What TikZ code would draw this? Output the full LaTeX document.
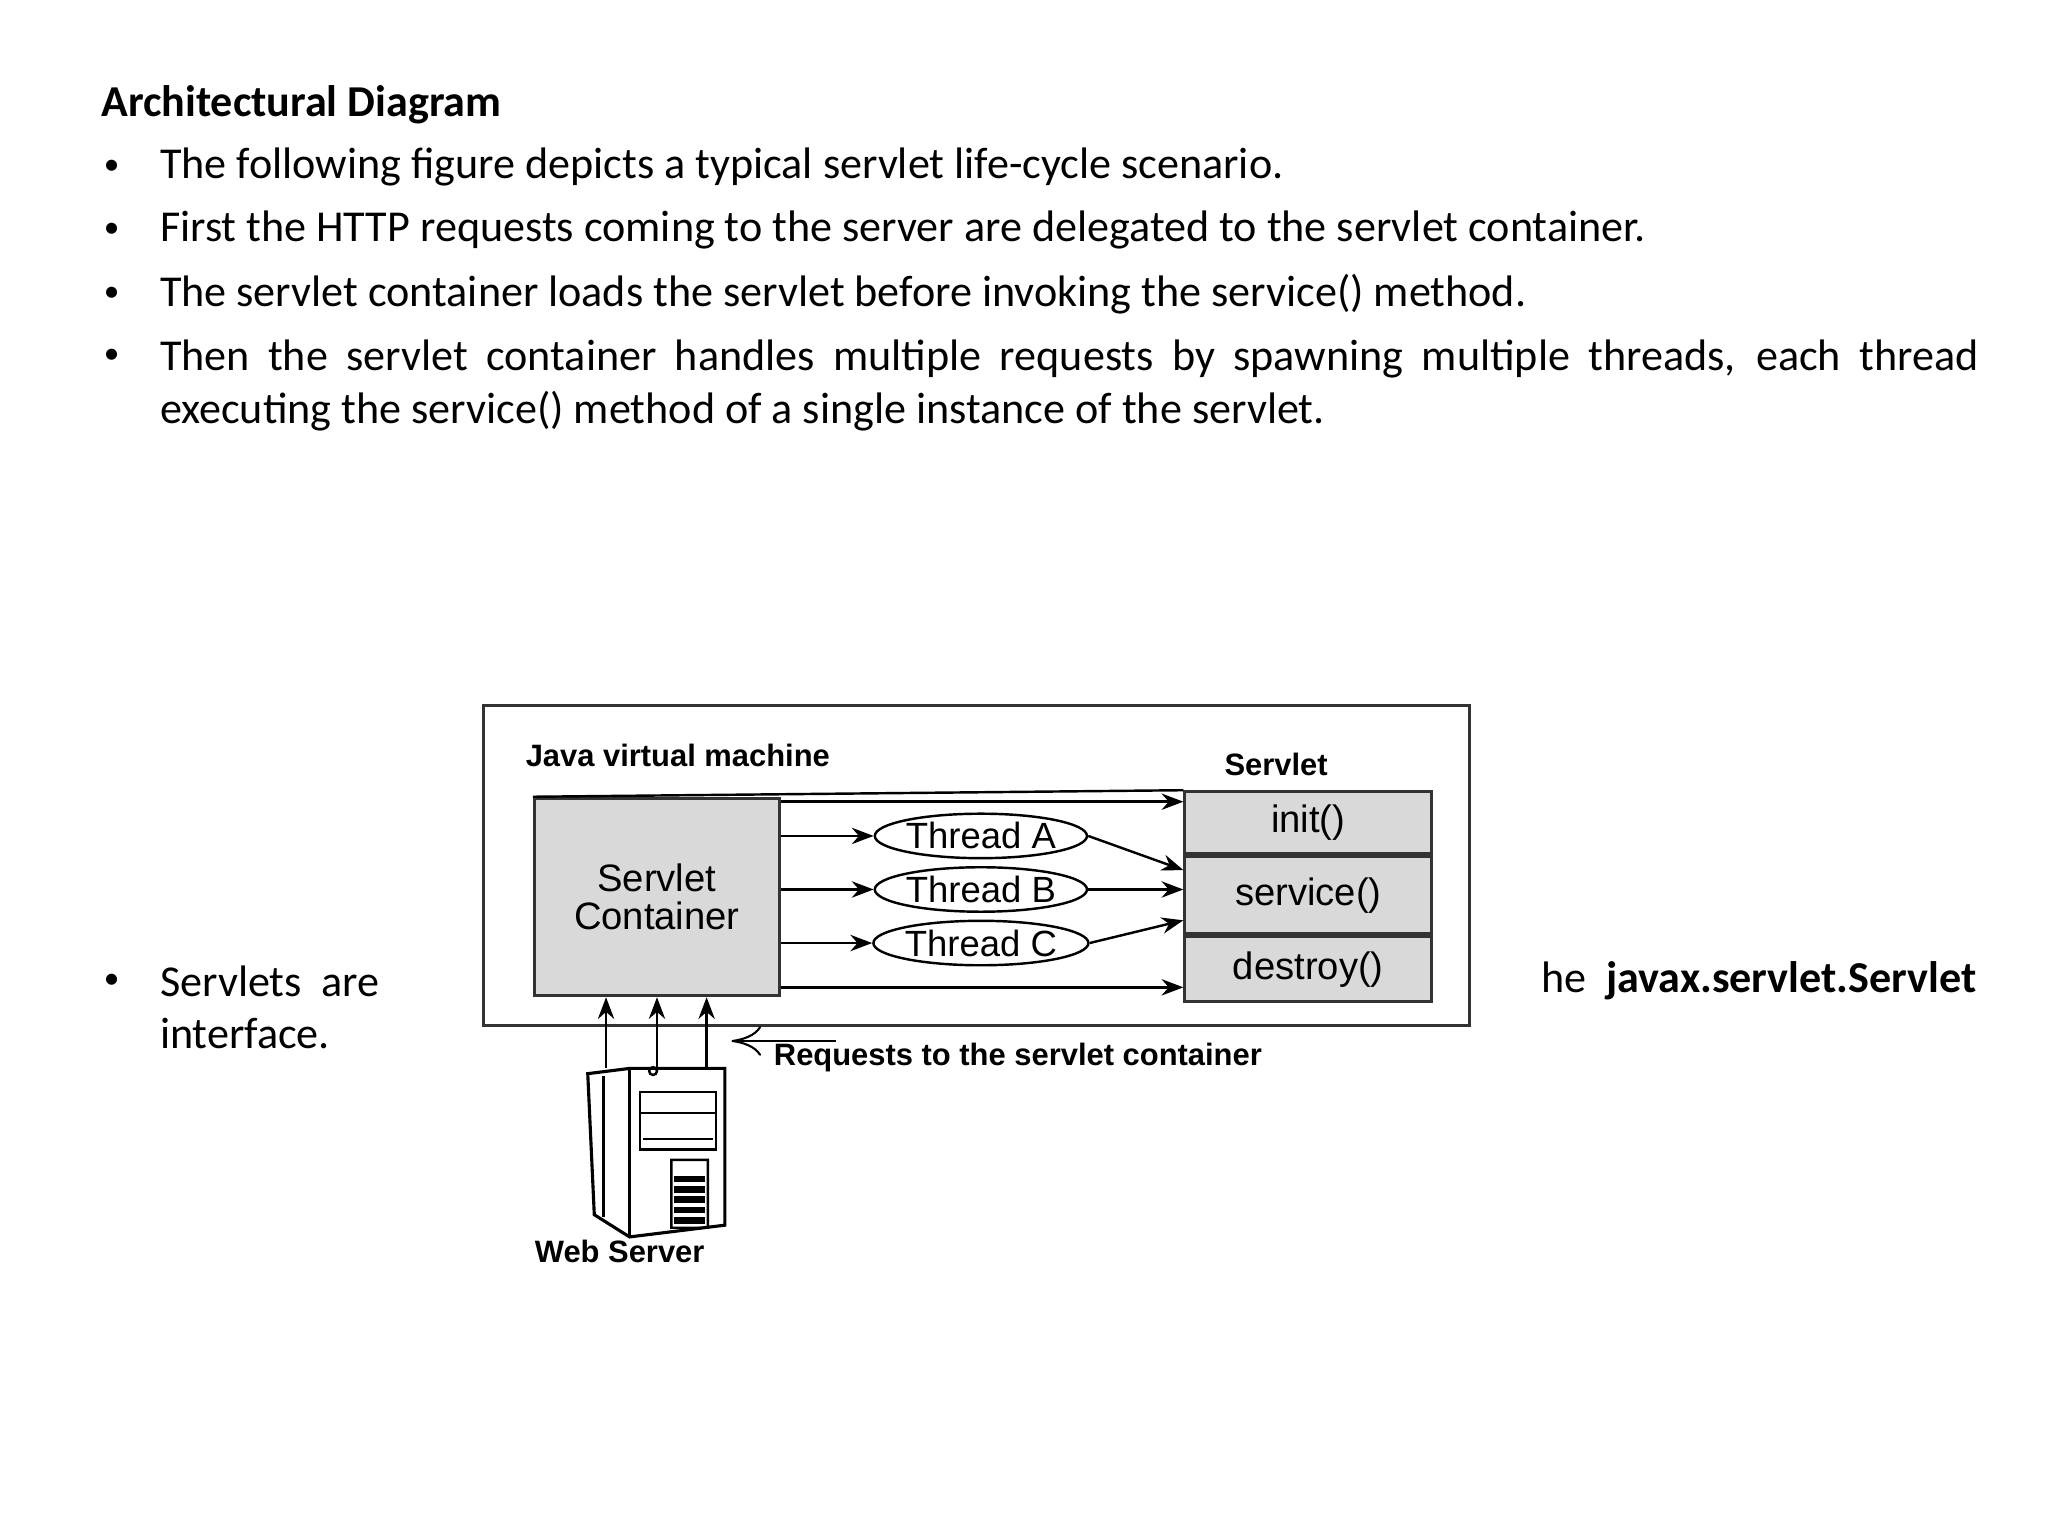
\documentclass[tikz,border=0pt]{standalone}
\usepackage{fontspec}
\setmainfont{Carlito}
\newfontfamily\diag{Liberation Sans}
\usetikzlibrary{positioning, arrows.meta, shapes.geometric}

\tikzset{
  body/.style={anchor=west, inner sep=0pt, font=\fontsize{12.7}{15}\selectfont},
  dot/.style={anchor=west, inner sep=0pt, font=\fontsize{9}{10}\selectfont},
  label/.style={inner sep=0pt, font=\diag\bfseries\fontsize{8.9}{10}\selectfont},
  block/.style={draw=black!80, line width=0.8pt, fill=black!15},
  thread/.style={ellipse, draw, line width=0.7pt, minimum width=2.1cm, minimum height=0.45cm, inner sep=0pt, font=\diag\fontsize{10.5}{11}\selectfont},
  call/.style={-{Stealth[length=2.2mm]}, line width=0.7pt},
}

\begin{document}
\begin{tikzpicture}[x=0.013213cm, y=-0.013213cm]
  \useasboundingbox (0,0) rectangle (1568,1176);

  % slide text
  \node[body, font=\bfseries\fontsize{12.7}{15}\selectfont] (title) at (77,80) {Architectural Diagram};
  \foreach \y/\t [count=\i] in {128/{The following figure depicts a typical servlet life-cycle scenario.},
      176/{First the HTTP requests coming to the server are delegated to the servlet container.},
      225/{The servlet container loads the servlet before invoking the service() method.}} {
    \node[dot] (dot\i) at (79,\y) {\textbullet};
    \node[body] (line\i) at (122,\y) {\t};
  }
  \node[dot] (dot4) at (79,273) {\textbullet};
  \node[body, anchor=north west, text width=18.4cm, align=justify,
        font=\fontsize{12.7}{15.2}\selectfont] (line4) at (122,260)
    {Then the servlet container handles multiple requests by spawning multiple threads, each thread\linebreak executing the service() method of a single instance of the servlet.};
  \node[dot] (dot5) at (79,751) {\textbullet};
  \node[body] (line5) at (122,751) {Servlets\ \ are};
  \node[body, anchor=east] (line5b) at (1514,751) {he\ \ \textbf{javax.servlet.Servlet}};
  \node[body] (line6) at (122,791) {interface.};

  % diagram
  \draw[line width=0.8pt, black!80] (370,540) rectangle (1125,785);
  \node[label, anchor=west] (jvm) at (402,578) {Java virtual machine};
  \node[label] (servlet) at (977,585) {Servlet};

  \node[block, minimum width=2.48cm, minimum height=2.0cm, align=center,
        font=\diag\fontsize{11}{11}\selectfont, anchor=north west] (cont) at (408,610) {Servlet\\Container};
  \node[block, minimum width=2.5cm, minimum height=0.63cm, anchor=north west,
        font=\diag\fontsize{11}{11}\selectfont] (init) at (906,605) {init()};
  \node[block, minimum width=2.5cm, minimum height=0.78cm, anchor=north,
        font=\diag\fontsize{11}{11}\selectfont] (serv) at (init.south) {service()};
  \node[block, minimum width=2.5cm, minimum height=0.66cm, anchor=north,
        font=\diag\fontsize{11}{11}\selectfont] (dest) at (serv.south) {destroy()};

  \foreach \y/\n in {640/A, 681/B, 722/C} {
    \node[thread] (th\n) at (751,\y) {Thread \n};
    \draw[call] (cont.east |- th\n) -- (th\n);
  }
  \draw[call] (thA.east) -- ([yshift=-0.15cm]serv.north west);
  \draw[call] (thB.east) -- (thB.east -| serv.west);
  \draw[call] (thC.east) -- ([yshift=0.15cm]serv.south west);
  \draw[line width=0.7pt] (cont.north west) -- (init.north west);
  \draw[call] ([yshift=-0.05cm]cont.north east) -- ([yshift=-0.05cm]cont.north east -| init.west);
  \draw[call] ([yshift=0.1cm]cont.south east) -- ([yshift=0.1cm]cont.south east -| dest.west);

  % web server
  \coordinate (srv) at (450,815);
  \draw[line width=0.9pt, fill=white] (450,822) -- (482,818) -- (555,818) -- (555,938) -- (482,947) -- (455,930) -- cycle;
  \draw[line width=0.7pt] (482,818) -- (482,947) (462,824) -- (462,932);
  \draw[line width=0.7pt] (490,836) rectangle (548,880) (490,852) -- (548,852) (492,872) -- (546,872);
  \draw[line width=0.7pt] (500,820) circle (3) (514,888) rectangle (542,940);
  \foreach \y in {900,908,916,924,932} \fill (516,\y) rectangle (540,\y+5);
  \node[label, anchor=west] (web) at (409,958) {Web Server};
  \foreach \x in {464,503,541} \draw[call] (\x,818) -- (cont.south -| \x,0);

  \coordinate (req) at (640,797);
  \draw[-{To[length=3mm, width=3mm]}, line width=0.6pt] (req) -- (560,797);
  \node[label, anchor=west] (reqtext) at (592,810) {Requests to the servlet container};
\end{tikzpicture}
\end{document}
